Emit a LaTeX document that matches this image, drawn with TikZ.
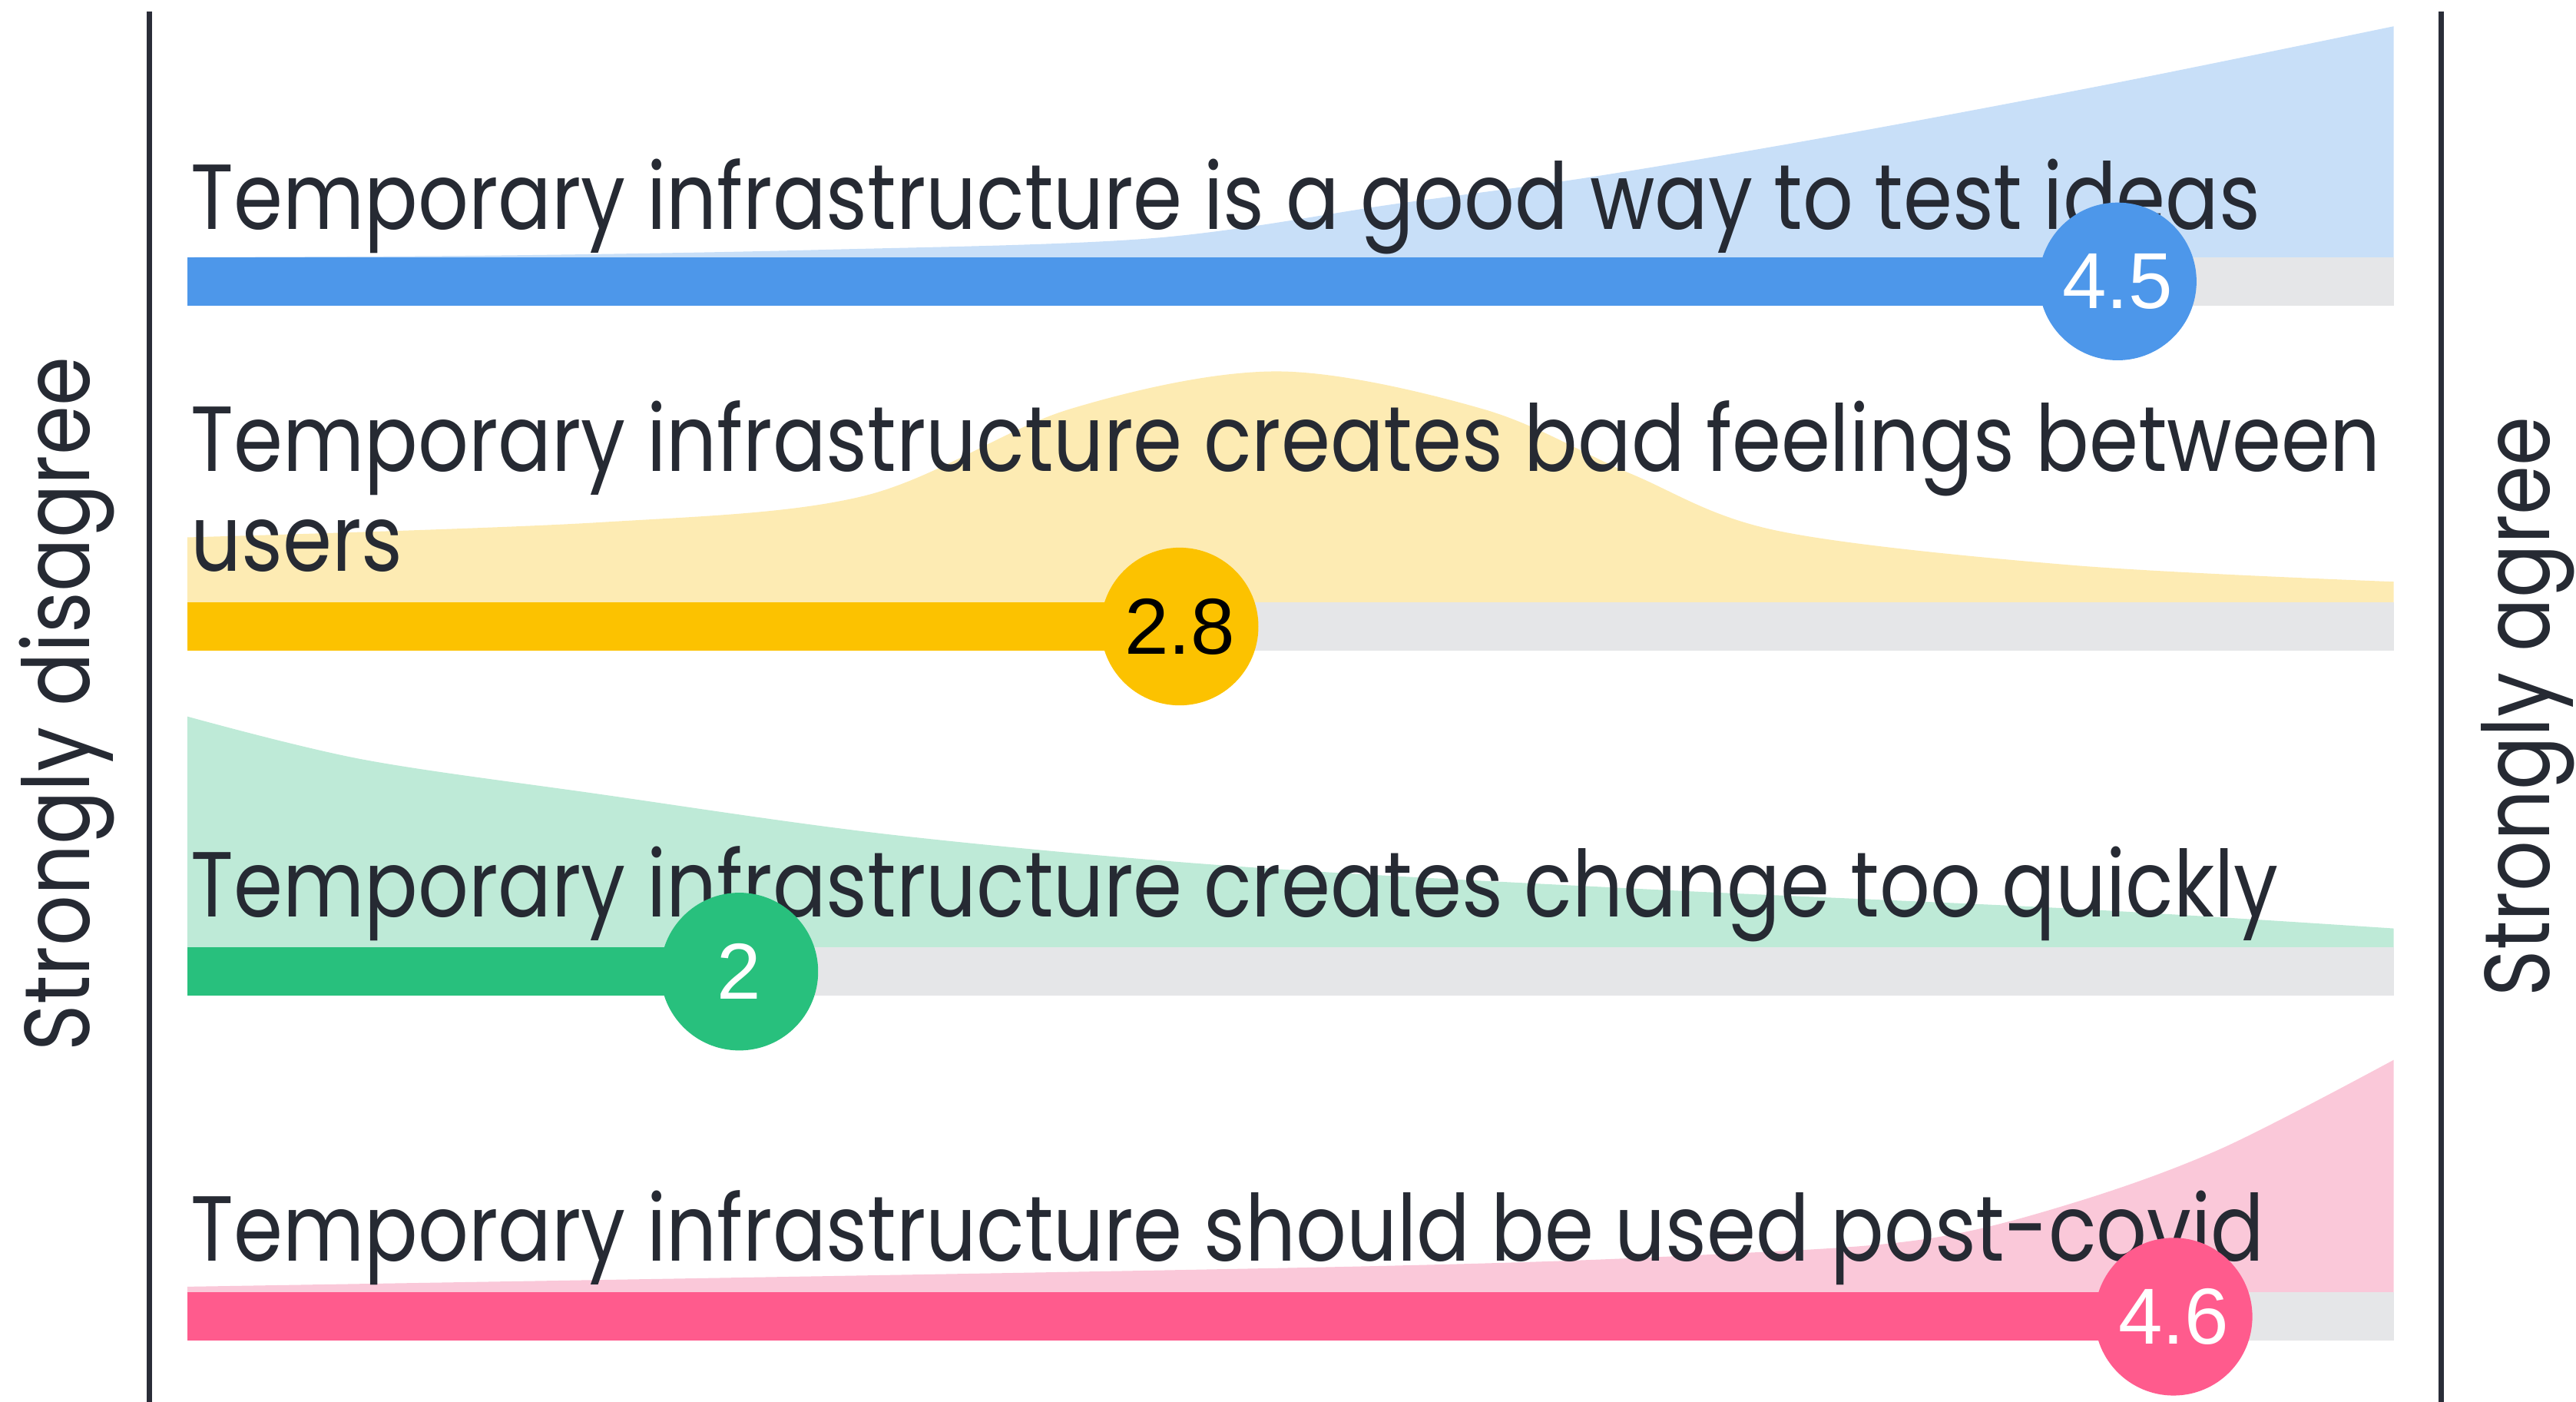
\documentclass[tikz,border=0pt]{standalone}
\usepackage{fontspec}
\newfontfamily\labfont[FakeStretch=0.857]{Poppins}
\newfontfamily\numfont{Liberation Sans}
\definecolor{txt}{HTML}{262A33}
\definecolor{axis}{HTML}{2A2D38}
\definecolor{track}{HTML}{E5E6E8}
\definecolor{blueD}{HTML}{4D97EA}
\definecolor{blueL}{HTML}{C8DFF8}
\definecolor{yelD}{HTML}{FCC200}
\definecolor{yelL}{HTML}{FDEBB3}
\definecolor{grnD}{HTML}{28C07D}
\definecolor{grnL}{HTML}{BEEAD7}
\definecolor{pnkD}{HTML}{FF5B8D}
\definecolor{pnkL}{HTML}{FAC8D9}
\begin{document}
\begin{tikzpicture}[x=0.02cm,y=-0.02cm,
  lab/.style={anchor=base west, inner sep=0pt, text=txt, font=\labfont\fontsize{32}{35}\selectfont},
  side/.style={anchor=base, inner sep=0pt, rotate=90, text=txt, font=\labfont\fontsize{32}{35}\selectfont},
  dot/.style={circle, minimum size=1.92cm, inner sep=0pt, font=\numfont\fontsize{27.5}{30}\selectfont},
  axisline/.style={draw=axis, line width=0.07cm}]
\useasboundingbox (0,0) rectangle (1568,853);
% axes
\coordinate (axLt) at (91,7); \coordinate (axLb) at (91,853);
\coordinate (axRt) at (1486,7); \coordinate (axRb) at (1486,853);
\draw[axisline] (axLt) -- (axLb);
\draw[axisline] (axRt) -- (axRb);
\node[side] (sd) at (54.5,428.5) {Strongly disagree};
\node[side] (sa) at (1552,430) {Strongly agree};
% distributions
\fill[blueL] (114,156.5) -- plot[smooth, tension=0.55] coordinates {(114,156.5) (300,155.5) (500,152) (701,145) (850,124) (970,107.5) (1120,82) (1290,50) (1457,16)} -- (1457,156.5) -- cycle;
\fill[yelL] (114,366.5) -- plot[smooth, tension=0.55] coordinates {(114,327) (363,318) (525,302) (651,249) (777,226) (903,249) (992,288) (1082,323) (1262,344) (1457,354)} -- (1457,366.5) -- cycle;
\fill[grnL] (114,576.5) -- plot[smooth, tension=0.55] coordinates {(114,436) (220,462) (363,483) (543,508) (750,527) (1000,541) (1262,553) (1457,565)} -- (1457,576.5) -- cycle;
\fill[pnkL] (114,786.5) -- plot[smooth, tension=0.55] coordinates {(114,783) (813,771) (1050,763) (1172,754) (1262,732) (1352,699) (1457,645)} -- (1457,786.5) -- cycle;
% labels
\node[lab] (t1) at (116,139.5) {Temporary infrastructure is a good way to test ideas};
\node[lab] (t2) at (116,286.8) {Temporary infrastructure creates bad feelings between};
\node[lab] (t2b) at (116,347.6) {users};
\node[lab] (t3) at (116,558) {Temporary infrastructure creates change too quickly};
\node[lab] (t4) at (116,767.5) {Temporary infrastructure should be used post-covid};
% tracks
\foreach \y in {156.5,366.5,576.5,786.5}{\fill[track] (114,\y) rectangle (1457,\y+29.5);}
\fill[blueD] (114,156.5) rectangle (1289,186);
\fill[yelD] (114,366.5) rectangle (718,396);
\fill[grnD] (114,576.5) rectangle (450,606);
\fill[pnkD] (114,786.5) rectangle (1323,816);
% value dots
\node[dot, fill=blueD, text=white] (v1) at (1289,171.25) {4.5};
\node[dot, fill=yelD, text=black] (v2) at (718,381.25) {2.8};
\node[dot, fill=grnD, text=white] (v3) at (450,591.25) {2};
\node[dot, fill=pnkD, text=white] (v4) at (1323,801.25) {4.6};
\end{tikzpicture}
\end{document}
